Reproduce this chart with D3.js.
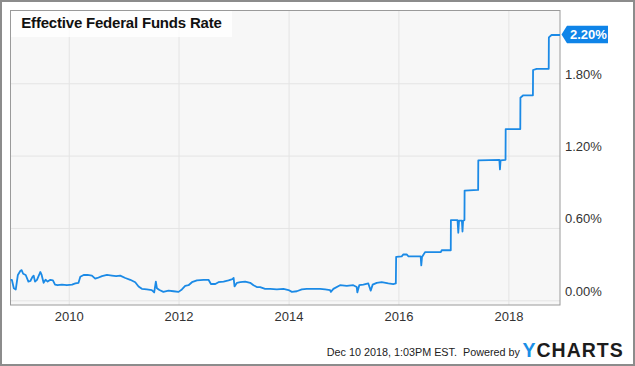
<!DOCTYPE html>
<html><head><meta charset="utf-8">
<script src="https://cdn.jsdelivr.net/npm/d3@7"></script>
<style>
body{margin:0;background:#fff}
svg{display:block;font-family:"Liberation Sans",Arial,Helvetica,sans-serif}
</style>
</head><body>
<svg id="c" width="635" height="366"></svg>
<script>
// ---- data ----
const dates = [
"2008-12-10","2008-12-19","2009-01-01","2009-01-14","2009-01-28","2009-02-14","2009-02-22","2009-03-04","2009-03-21","2009-04-08",
"2009-04-21","2009-05-05","2009-05-13","2009-05-22","2009-06-04","2009-06-18","2009-06-26","2009-07-05","2009-07-18","2009-07-31",
"2009-08-14","2009-09-01","2009-09-18","2009-10-02","2009-10-19","2009-11-17","2009-12-20","2010-01-23","2010-02-14","2010-03-07",
"2010-03-19","2010-04-10","2010-05-06","2010-06-04","2010-06-26","2010-07-11","2010-08-10","2010-09-12","2010-10-15","2010-11-12",
"2010-12-09","2011-01-12","2011-02-14","2011-03-19","2011-04-10","2011-05-02","2011-06-04","2011-07-07","2011-07-23","2011-08-03",
"2011-08-10","2011-08-27","2011-09-22","2011-10-26","2011-11-28","2012-01-01","2012-01-23","2012-02-14","2012-03-07","2012-03-30",
"2012-05-02","2012-06-15","2012-07-18","2012-08-03","2012-09-01","2012-09-22","2012-10-26","2012-11-28","2012-12-24","2013-01-01",
"2013-01-07","2013-01-23","2013-02-14","2013-03-19","2013-04-21","2013-05-13","2013-06-04","2013-06-26","2013-07-29","2013-09-01",
"2013-10-15","2013-11-28","2014-01-01","2014-01-23","2014-02-25","2014-03-30","2014-05-02","2014-06-15","2014-07-29","2014-09-01",
"2014-10-04","2014-10-09","2014-10-26","2014-12-09","2015-01-23","2015-03-07","2015-03-30","2015-04-03","2015-04-16","2015-05-13",
"2015-06-15","2015-07-01","2015-07-14","2015-08-10","2015-09-12","2015-10-26","2015-11-28","2015-12-15","2015-12-17","2016-01-23",
"2016-02-03","2016-02-25","2016-03-08","2016-03-23","2016-05-28","2016-06-01","2016-06-06","2016-06-27","2016-08-20","2016-10-09",
"2016-10-15","2016-12-14","2016-12-15","2017-01-28","2017-02-02","2017-02-07","2017-02-26","2017-03-02","2017-03-06","2017-03-15",
"2017-03-16","2017-06-14","2017-06-15","2017-11-02","2017-11-06","2017-11-10","2017-12-13","2017-12-14","2018-03-21","2018-03-22",
"2018-04-10","2018-06-13","2018-06-14","2018-07-08","2018-09-26","2018-09-27","2018-10-15","2018-12-10"
];
const rates = [
0.17,0.17,0.10,0.09,0.21,0.245,0.25,0.22,0.21,0.155,
0.16,0.195,0.205,0.155,0.17,0.21,0.235,0.21,0.145,0.17,
0.155,0.17,0.165,0.13,0.125,0.13,0.125,0.13,0.14,0.145,
0.195,0.21,0.21,0.205,0.18,0.185,0.20,0.21,0.205,0.20,
0.205,0.185,0.17,0.15,0.115,0.095,0.09,0.085,0.065,0.155,
0.10,0.085,0.07,0.08,0.075,0.07,0.09,0.12,0.125,0.15,
0.165,0.17,0.17,0.135,0.135,0.15,0.155,0.165,0.175,0.185,
0.115,0.145,0.15,0.155,0.145,0.125,0.11,0.11,0.095,0.095,
0.09,0.095,0.085,0.07,0.075,0.09,0.095,0.095,0.095,0.09,
0.085,0.07,0.095,0.125,0.12,0.125,0.11,0.065,0.125,0.13,
0.14,0.08,0.13,0.145,0.15,0.14,0.135,0.14,0.36,0.365,
0.38,0.38,0.365,0.365,0.365,0.29,0.36,0.40,0.40,0.40,
0.415,0.415,0.665,0.665,0.56,0.66,0.66,0.57,0.66,0.665,
0.91,0.915,1.16,1.165,1.085,1.16,1.165,1.42,1.42,1.68,
1.70,1.70,1.91,1.92,1.92,2.18,2.20,2.20
];
const yTicks = [0, 0.6, 1.2, 1.8];
const xTickYears = [2010, 2012, 2014, 2016, 2018];
const titleText = "Effective Federal Funds Rate";
const footerText = "Dec 10 2018, 1:03PM EST.  Powered by";
const logoY = "Y";
const logoRest = "CHARTS";

// ---- layout ----
const W = 635, H = 366;
const P = {left: 10.5, right: 560, top: 10.5, bottom: 305};
const blue = "#1b8ae6";

const parse = d3.timeParse("%Y-%m-%d");
const data = dates.map((d, i) => ({date: parse(d), value: rates[i]}));

const svg = d3.select("#c");

// outer frame
svg.append("rect").attr("x", 1).attr("y", 1).attr("width", W - 2).attr("height", H - 2)
  .attr("fill", "#fff").attr("stroke", "#8c8c8c").attr("stroke-width", 2);

const x = d3.scaleTime()
  .domain([parse("2008-12-10"), parse("2018-12-10")])
  .range([P.left, P.right]);
const y = d3.scaleLinear().domain([0, 2.4]).range([300.3, 10.9]);

// plot background
svg.append("rect").attr("x", P.left).attr("y", P.top)
  .attr("width", P.right - P.left).attr("height", P.bottom - P.top)
  .attr("fill", "#f7f7f7");

// vertical gridlines + x labels via axis
const xTicks = xTickYears.map(yr => new Date(yr, 0, 1));
const xAxis = d3.axisBottom(x).tickValues(xTicks).tickFormat(d3.timeFormat("%Y"))
  .tickSize(-(P.bottom - P.top)).tickPadding(8);
const gx = svg.append("g").attr("transform", `translate(0,${P.bottom})`).call(xAxis);
gx.select(".domain").remove();
gx.selectAll(".tick line").attr("stroke", "#e4e4e4").attr("stroke-width", 1);
gx.selectAll(".tick text").attr("fill", "#333").attr("font-size", 13)
  .attr("font-family", '"Liberation Sans",Arial,sans-serif').attr("dy", "0.71em").attr("y", 7);

// horizontal gridlines + y labels via axis
const yAxis = d3.axisRight(y).tickValues(yTicks).tickFormat(d => d.toFixed(2) + "%")
  .tickSize(-(P.right - P.left)).tickPadding(5);
const gy = svg.append("g").attr("transform", `translate(${P.right},0)`).call(yAxis);
gy.select(".domain").remove();
gy.selectAll(".tick line").attr("stroke", "#e4e4e4").attr("stroke-width", 1);
gy.selectAll(".tick text").attr("fill", "#333").attr("font-size", 13)
  .attr("font-family", '"Liberation Sans",Arial,sans-serif')
  .attr("dy", null).attr("y", -5).attr("x", 5);

// plot border
svg.append("rect").attr("x", P.left).attr("y", P.top)
  .attr("width", P.right - P.left).attr("height", P.bottom - P.top)
  .attr("fill", "none").attr("stroke", "#9a9a9a").attr("stroke-width", 1);

// title box
svg.append("rect").attr("x", 11).attr("y", 11).attr("width", 221).attr("height", 26)
  .attr("fill", "#fff").attr("fill-opacity", 0.8);
svg.append("text").attr("x", 21.3).attr("y", 28.3)
  .attr("font-size", 15).attr("font-weight", "bold").attr("fill", "#111")
  .attr("letter-spacing", -0.2).text(titleText);

// line
const line = d3.line().x(d => x(d.date)).y(d => y(d.value));
svg.append("path").datum(data).attr("d", line)
  .attr("fill", "none").attr("stroke", blue).attr("stroke-width", 1.8)
  .attr("stroke-linejoin", "round");

// last value callout
const last = data[data.length - 1];
const tx = x(last.date) + 1.5, ty = y(last.value) - 0.5;
svg.append("path")
  .attr("d", `M${tx},${ty} L${tx + 5.5},${ty - 8.8} L${tx + 46.5},${ty - 8.8} L${tx + 46.5},${ty + 8.8} L${tx + 5.5},${ty + 8.8} Z`)
  .attr("fill", "#0f84e8");
svg.append("text").attr("x", tx + 8.5).attr("y", ty + 4.5)
  .attr("font-size", 13).attr("font-weight", "bold").attr("fill", "#fff")
  .text(d3.format(".2f")(last.value) + "%");

// footer
svg.append("text").attr("x", 520).attr("y", 356).attr("text-anchor", "end")
  .attr("font-size", 10.8).attr("fill", "#222").style("white-space", "pre")
  .text(footerText);
const logo = svg.append("text").attr("x", 522.5).attr("y", 356.7)
  .attr("font-size", 19.5).attr("font-weight", "bold").attr("letter-spacing", 1);
logo.append("tspan").attr("fill", "#1a8fe6").text(logoY);
logo.append("tspan").attr("fill", "#1c1c1c").text(logoRest);
</script>
</body></html>
